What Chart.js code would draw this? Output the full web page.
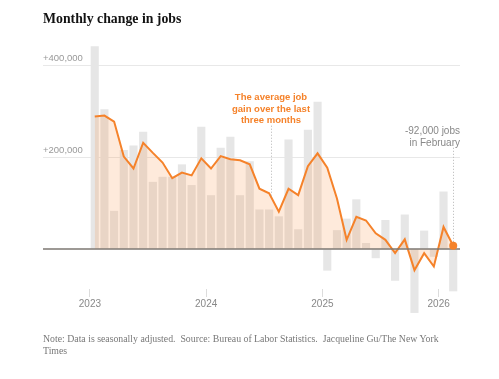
<!DOCTYPE html>
<html><head><meta charset="utf-8">
<script src="https://cdn.jsdelivr.net/npm/chart.js@4.4.1/dist/chart.umd.min.js"></script>
<style>
html,body{margin:0;padding:0;background:#fff;}
#wrap{position:relative;width:499px;height:379px;overflow:hidden;}
#cv{position:absolute;left:0;top:0;width:499px;height:379px;}
.t{position:absolute;white-space:nowrap;}
#title{left:43px;top:11px;font:bold 15px 'Liberation Serif',serif;line-height:15px;color:#121212;transform:scaleX(0.92);transform-origin:left top;}
#ann1{left:211px;width:120px;text-align:center;top:91px;font:bold 9.5px 'Liberation Sans',Arial,sans-serif;line-height:11.5px;color:#f5822a;}
#ann2{right:39px;text-align:right;top:125px;font:10px 'Liberation Sans',Arial,sans-serif;line-height:11.5px;color:#888;}
#note{left:43px;top:333px;font:9.8px 'Liberation Serif',serif;line-height:12px;color:#777;}
</style></head>
<body>
<div id="wrap">
<div id="cv"><canvas id="c" width="499" height="379"></canvas></div>
<div class="t" id="title">Monthly change in jobs</div>
<div class="t" id="ann1">The average job<br>gain over the last<br>three months</div>
<div class="t" id="ann2">-92,000 jobs<br>in February</div>
<div class="t" id="note">Note: Data is seasonally adjusted.&nbsp; Source: Bureau of Labor Statistics.&nbsp; Jacqueline Gu/The New York<br>Times</div>
</div>
<script>
const months = ['Jan 2023','Feb 2023','Mar 2023','Apr 2023','May 2023','Jun 2023','Jul 2023','Aug 2023','Sep 2023','Oct 2023','Nov 2023','Dec 2023',
'Jan 2024','Feb 2024','Mar 2024','Apr 2024','May 2024','Jun 2024','Jul 2024','Aug 2024','Sep 2024','Oct 2024','Nov 2024','Dec 2024',
'Jan 2025','Feb 2025','Mar 2025','Apr 2025','May 2025','Jun 2025','Jul 2025','Aug 2025','Sep 2025','Oct 2025','Nov 2025','Dec 2025',
'Jan 2026','Feb 2026'];
const monthlyChange = [441000,304000,83000,215000,225000,255000,146000,157000,157000,184000,139000,266000,
117000,220000,244000,117000,191000,86000,86000,71000,238000,43000,259000,320000,
-47000,41000,66000,108000,13000,-20000,63000,-69000,75000,-139000,40000,-17000,
125000,-92000];
const threeMonthAvg = [288000,290000,277000,201000,175000,231000,209000,188000,154000,166000,160000,197000,
175000,202000,195000,193000,184000,131000,121000,81000,131000,117000,180000,208000,
177000,110000,20000,70000,62000,34000,20000,-9000,21000,-46000,-9000,-38000,
48000,7000];
const yearLabels = ['2023','2024','2025','2026'];
const yTickValues = [0,200000,400000];

const yearTickPos = yearLabels.map(y => months.indexOf('Jan ' + y));
const barPts = monthlyChange.map((v,i) => ({x:i+0.5, y:v}));
const avgPts = threeMonthAvg.map((v,i) => ({x:i+0.5, y:v}));
const ORANGE = '#f5822a';

const overlay = {
  id:'overlay',
  afterDatasetsDraw(chart){
    const {ctx, chartArea:a, scales:{x,y}} = chart;
    ctx.save();
    ctx.strokeStyle = '#7d7772'; ctx.lineWidth = 1.5;
    const y0 = y.getPixelForValue(0);
    ctx.beginPath(); ctx.moveTo(a.left, y0); ctx.lineTo(a.right, y0); ctx.stroke();
    ctx.strokeStyle = '#b5b5b5'; ctx.lineWidth = 1; ctx.setLineDash([1,2]);
    const ax = 18.7, i0 = 18, f = ax - 18.5;
    const av = threeMonthAvg[i0] + (threeMonthAvg[i0+1]-threeMonthAvg[i0])*f;
    let px = Math.round(x.getPixelForValue(ax)) + 0.5;
    ctx.beginPath(); ctx.moveTo(px, y.getPixelForValue(268000)); ctx.lineTo(px, y.getPixelForValue(av)); ctx.stroke();
    const last = months.length - 1;
    px = Math.round(x.getPixelForValue(last + 0.5)) + 0.5;
    ctx.beginPath(); ctx.moveTo(px, y.getPixelForValue(220000)); ctx.lineTo(px, y.getPixelForValue(threeMonthAvg[last])); ctx.stroke();
    ctx.restore();
    const meta = chart.getDatasetMeta(1);
    const p = meta.data[last];
    ctx.save(); ctx.fillStyle = ORANGE;
    ctx.beginPath(); ctx.arc(p.x, p.y, 4, 0, Math.PI*2); ctx.fill();
    ctx.restore();
  }
};

new Chart(document.getElementById('c'), {
  type:'bar',
  data:{
    datasets:[
      {type:'bar', data:barPts, backgroundColor:'#e6e6e6', borderWidth:0,
       barPercentage:0.84, categoryPercentage:1, order:2},
      {type:'line', data:avgPts, borderColor:ORANGE, borderWidth:2, tension:0,
       fill:'origin', backgroundColor:'rgba(250,140,55,0.18)',
       pointRadius:0, order:1}
    ]
  },
  plugins:[overlay],
  options:{
    responsive:false, animation:false,
    layout:{padding:{left:43, right:39, top:42, bottom:61}},
    plugins:{legend:{display:false}, tooltip:{enabled:false}},
    scales:{
      x:{type:'linear', min:-4.84, max:38.2, offset:false, position:{y:-87000},
         afterBuildTicks: s => { s.ticks = yearTickPos.map(v => ({value:v})); },
         grid:{offset:false, drawOnChartArea:false, drawTicks:true, tickLength:8, color:'#dcdcdc'},
         border:{display:false},
         ticks:{padding:1, color:'#888', font:{family:"'Liberation Sans', Arial, sans-serif", size:10},
                maxRotation:0, autoSkip:false,
                callback:(v) => { const k = yearTickPos.indexOf(v); return k >= 0 ? yearLabels[k] : ''; }}},
      y:{min:-150000, max:450000,
         afterBuildTicks: s => { s.ticks = yTickValues.map(v => ({value:v})); },
         afterFit: s => { s.width = 0; },
         grid:{drawTicks:false, color: c => c.tick && c.tick.value > 0 ? '#e8e8e8' : 'rgba(0,0,0,0)', lineWidth:1},
         border:{display:false},
         ticks:{mirror:true, padding:0, labelOffset:-7, color:'#999',
                font:{family:"'Liberation Sans', Arial, sans-serif", size:9.5},
                callback:(v) => v > 0 ? '+' + v.toLocaleString('en-US') : ''}}
    }
  }
});
</script>
</body></html>
